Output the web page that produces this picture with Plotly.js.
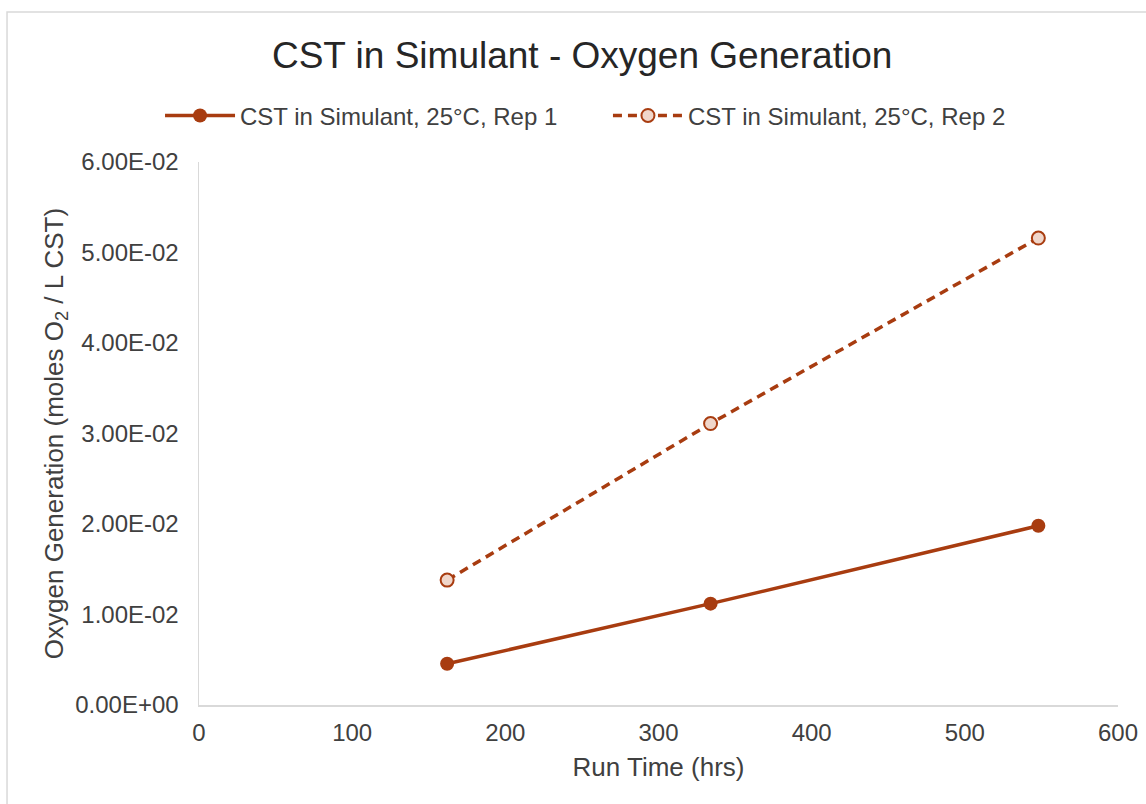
<!DOCTYPE html>
<html>
<head>
<meta charset="utf-8">
<script src="https://cdn.plot.ly/plotly-3.0.1.min.js"></script>
<style>html,body{margin:0;padding:0;background:#fff;}#chart{width:1146px;height:804px;}</style>
</head>
<body>
<div id="chart"></div>
<script>
const runTime = [162, 334, 548];
const rep1 = [0.00455, 0.0112, 0.0198];
const rep2 = [0.0138, 0.0311, 0.0516];
const seriesNames = ["CST in Simulant, 25°C, Rep 1", "CST in Simulant, 25°C, Rep 2"];
const yTickVals = [0, 0.01, 0.02, 0.03, 0.04, 0.05, 0.06];
const yTickText = ["0.00E+00", "1.00E-02", "2.00E-02", "3.00E-02", "4.00E-02", "5.00E-02", "6.00E-02"];
const xTickVals = [0, 100, 200, 300, 400, 500, 600];

const color = "#A83C10";
const font = "Liberation Sans, Arial, sans-serif";

const traces = [
  {
    x: runTime, y: rep1, name: seriesNames[0], type: "scatter", mode: "lines+markers", legend: "legend",
    line: {color: color, width: 3.5},
    marker: {symbol: "circle", size: 14, color: color}
  },
  {
    x: runTime, y: rep2, name: seriesNames[1], type: "scatter", mode: "lines+markers", legend: "legend2",
    line: {color: color, width: 3.5, dash: "9px,6px"},
    marker: {symbol: "circle", size: 13, color: "#f0d6ca", line: {color: color, width: 2}}
  }
];

const legendBase = {orientation: "h", xref: "paper", xanchor: "left", yref: "paper", y: 1.085, yanchor: "middle",
  font: {family: font, size: 24, color: "#404040"}, itemwidth: 70, bgcolor: "rgba(0,0,0,0)"};

const layout = {
  width: 1146, height: 804,
  margin: {l: 199, r: 28, t: 162, b: 99, autoexpand: false},
  paper_bgcolor: "#fff", plot_bgcolor: "#fff",
  font: {family: font, color: "#404040", size: 24},
  title: {text: "CST in Simulant - Oxygen Generation", font: {family: font, size: 37, color: "#262626"},
          xref: "container", x: 0.508, xanchor: "center", yref: "container", y: 0.932, yanchor: "middle"},
  showlegend: true,
  legend: Object.assign({}, legendBase, {x: -0.0424}),
  legend2: Object.assign({}, legendBase, {x: 0.445}),
  xaxis: {
    range: [0, 600], tickvals: xTickVals, showgrid: false, zeroline: false,
    showline: true, linecolor: "#d9d9d9", linewidth: 1.5, ticks: "",
    tickfont: {family: font, size: 24, color: "#404040"}, ticklabelstandoff: 6,
    title: {text: "Run Time (hrs)", font: {family: font, size: 26, color: "#404040"}, standoff: 12}
  },
  yaxis: {
    range: [0, 0.06], tickvals: yTickVals, ticktext: yTickText, showgrid: false, zeroline: false,
    showline: true, linecolor: "#d9d9d9", linewidth: 1.5, ticks: "",
    tickfont: {family: font, size: 24, color: "#404040"}, ticklabelstandoff: 14,
    title: {text: "Oxygen Generation (moles O<sub>2</sub> / L CST)", font: {family: font, size: 26, color: "#404040"}, standoff: 4}
  },
  shapes: [
    {type: "rect", xref: "paper", yref: "paper", x0: -0.2089, x1: 1.2, y0: -0.3, y1: 1.2762,
     line: {color: "#d9d9d9", width: 1.5}, fillcolor: "rgba(0,0,0,0)", layer: "below"}
  ]
};

Plotly.newPlot("chart", traces, layout, {displayModeBar: false, staticPlot: true});
</script>
</body>
</html>
